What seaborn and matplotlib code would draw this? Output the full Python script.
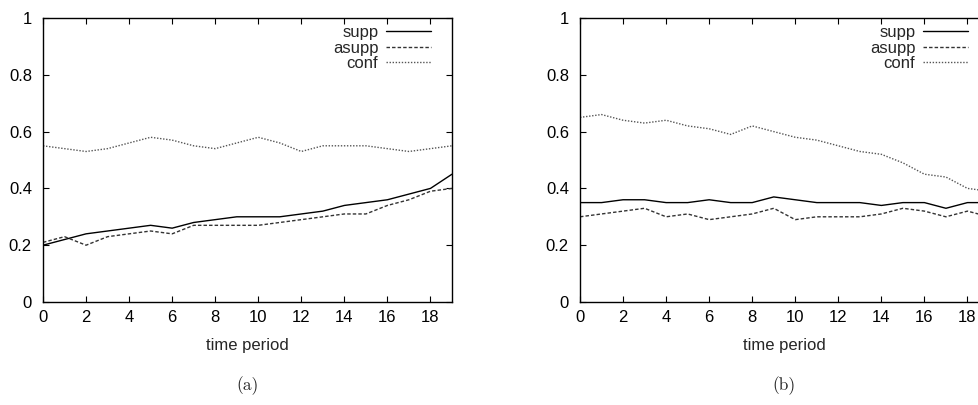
import matplotlib
matplotlib.use("Agg")
import matplotlib.pyplot as plt
import seaborn as sns
import numpy as np

# ---- data ----
periods = list(range(20))
supp_a = [0.20, 0.22, 0.24, 0.25, 0.26, 0.27, 0.26, 0.28, 0.29, 0.30,
          0.30, 0.30, 0.31, 0.32, 0.34, 0.35, 0.36, 0.38, 0.40, 0.45]
asupp_a = [0.21, 0.23, 0.20, 0.23, 0.24, 0.25, 0.24, 0.27, 0.27, 0.27,
           0.27, 0.28, 0.29, 0.30, 0.31, 0.31, 0.34, 0.36, 0.39, 0.40]
conf_a = [0.55, 0.54, 0.53, 0.54, 0.56, 0.58, 0.57, 0.55, 0.54, 0.56,
          0.58, 0.56, 0.53, 0.55, 0.55, 0.55, 0.54, 0.53, 0.54, 0.55]
supp_b = [0.35, 0.35, 0.36, 0.36, 0.35, 0.35, 0.36, 0.35, 0.35, 0.37,
          0.36, 0.35, 0.35, 0.35, 0.34, 0.35, 0.35, 0.33, 0.35, 0.35]
asupp_b = [0.30, 0.31, 0.32, 0.33, 0.30, 0.31, 0.29, 0.30, 0.31, 0.33,
           0.29, 0.30, 0.30, 0.30, 0.31, 0.33, 0.32, 0.30, 0.32, 0.30]
conf_b = [0.65, 0.66, 0.64, 0.63, 0.64, 0.62, 0.61, 0.59, 0.62, 0.60,
          0.58, 0.57, 0.55, 0.53, 0.52, 0.49, 0.45, 0.44, 0.40, 0.39]
series_names = ["supp", "asupp", "conf"]
x_ticks = list(range(0, 19, 2))
y_ticks = [0, 0.2, 0.4, 0.6, 0.8, 1]
y_tick_labels = ["0", "0.2", "0.4", "0.6", "0.8", "1"]
x_label = "time period"
panel_labels = ["(a)", "(b)"]

sns.set_style("ticks")
plt.rcParams['font.family'] = ['Liberation Sans', 'DejaVu Sans']

W, H = 979, 405
fig = plt.figure(figsize=(W / 100, H / 100), dpi=100)

styles = [
    dict(color="black", linestyle="-", linewidth=1.0),
    dict(color="#333333", linestyle=(0, (2.5, 1.5)), linewidth=1.0),
    dict(color="#555555", linestyle=(0, (1, 1.2)), linewidth=1.0),
]

panels = [
    (43, [supp_a, asupp_a, conf_a]),
    (580, [supp_b, asupp_b, conf_b]),
]
ax_w = 409
top_px, bot_px = 18, 302

for i, (left_px, data) in enumerate(panels):
    ax = fig.add_axes([left_px / W, 1 - bot_px / H, ax_w / W, (bot_px - top_px) / H])
    for name, vals, st in zip(series_names, data, styles):
        sns.lineplot(x=periods, y=vals, ax=ax, label=name, **st)
    ax.set_xlim(0, 19)
    ax.set_ylim(0, 1)
    ax.set_xticks(x_ticks)
    ax.set_yticks(y_ticks)
    ax.set_yticklabels(y_tick_labels)
    ax.tick_params(direction="in", top=True, right=True, length=4, width=0.8,
                   labelsize=12, colors="black")
    ax.tick_params(axis="y", pad=8)
    ax.tick_params(axis="x", pad=6)
    for sp in ax.spines.values():
        sp.set_visible(True)
        sp.set_linewidth(1.0)
        sp.set_color("black")
    ax.set_xlabel(x_label, fontsize=12, labelpad=9)
    ax.set_ylabel("")
    leg = ax.legend(loc="upper right", bbox_to_anchor=(1 - 12 / ax_w, 1.0 + 2 / 284),
                    frameon=False, markerfirst=False,
                    fontsize=12, handlelength=2.7, handletextpad=0.45,
                    labelspacing=0.02, borderaxespad=0.15)
    fig.text((left_px + ax_w / 2) / W, 1 - 386 / H, panel_labels[i],
             ha="center", va="center", fontsize=12.5, family=["cmr10", "DejaVu Serif"])

fig.savefig("out.png", dpi=100)
